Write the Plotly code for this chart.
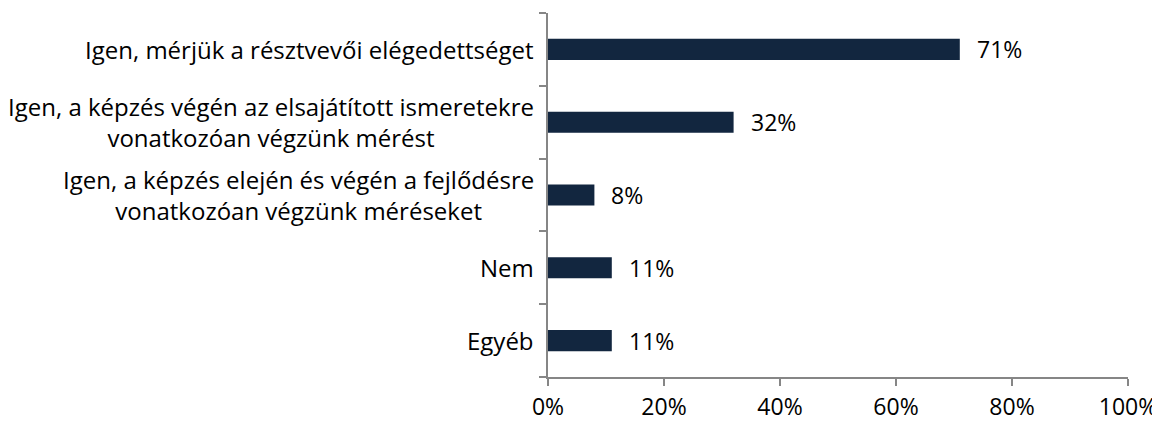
import plotly.graph_objects as go

categories = [
    "Igen, mérjük a résztvevői elégedettséget",
    "Igen, a képzés végén az elsajátított ismeretekre<br>vonatkozóan végzünk mérést",
    "Igen, a képzés elején és végén a fejlődésre<br>vonatkozóan végzünk méréseket",
    "Nem",
    "Egyéb",
]
values = [0.71, 0.32, 0.08, 0.11, 0.11]
x_ticks = [0, 0.2, 0.4, 0.6, 0.8, 1.0]
x_tick_labels = ["0%", "20%", "40%", "60%", "80%", "100%"]

FONT = "Open Sans"
FS_CAT = 24
FS_VAL = 23
FS_TICK = 23
AXIS = "#868686"
BAR = "#12263F"

fig = go.Figure(go.Bar(
    x=values, y=categories, orientation="h",
    marker=dict(color=BAR, line=dict(width=0)),
    width=0.29, hoverinfo="skip",
))

for c, v in zip(categories, values):
    fig.add_annotation(x=v, y=c, xref="x", yref="y", text=f"{round(v*100)}%",
                       showarrow=False, xanchor="left", xshift=15,
                       font=dict(family=FONT, size=FS_VAL, color="#000"))
    fig.add_annotation(x=0, y=c, xref="paper", yref="y", text=c,
                       showarrow=False, xanchor="right", xshift=-12, align="center",
                       font=dict(family=FONT, size=FS_CAT, color="#000"))

fig.update_layout(
    width=1160, height=421,
    margin=dict(l=540, r=40, t=5, b=52),
    paper_bgcolor="white", plot_bgcolor="white",
    showlegend=False,
    font=dict(family=FONT, size=FS_CAT, color="#000"),
    xaxis=dict(range=[0, 1], tickvals=x_ticks, ticktext=x_tick_labels,
               showgrid=False, zeroline=False, showline=True, linecolor=AXIS, linewidth=1.5,
               ticks="outside", ticklen=7, tickcolor=AXIS, tickwidth=1.5,
               ticklabelstandoff=2,
               tickfont=dict(family=FONT, size=FS_TICK, color="#000"), fixedrange=True),
    yaxis=dict(categoryorder="array", categoryarray=categories[::-1],
               showticklabels=False, showgrid=False, zeroline=False,
               showline=True, linecolor=AXIS, linewidth=1.5,
               ticks="outside", tickson="boundaries", ticklen=7, tickcolor=AXIS, tickwidth=1.5,
               fixedrange=True),
)

fig.write_html("out.html")
